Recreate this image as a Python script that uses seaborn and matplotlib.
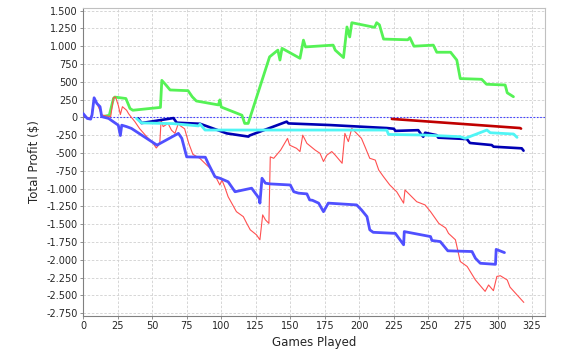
import pandas as pd
import matplotlib.pyplot as plt
import matplotlib.ticker as mticker
import seaborn as sns

# games played / total profit
green_games = [14, 19, 22, 23, 31, 34, 36, 56, 57, 60, 63, 76, 79, 82, 98, 99, 100, 115, 117, 119.5,
               135, 141, 142.5, 144, 157, 159.5, 161, 181, 182.5, 188.5, 191, 193, 194.5, 211, 212.5,
               214.5, 217.5, 235, 236.5, 239.5, 253.5, 256, 266, 270.5, 273, 288.5, 292, 305.5, 307, 311.5]
green_profit = [10, 30, 265, 285, 265, 125, 100, 140, 520, 455, 385, 375, 290, 230, 175, 245, 145, 30, -85, -85,
                850, 945, 805, 970, 830, 1085, 990, 1015, 945, 840, 1270, 1130, 1330, 1265, 1330,
                1300, 1100, 1090, 1120, 1000, 1015, 915, 915, 805, 545, 535, 465, 455, 345, 290]

red_games = [0, 2, 4, 6, 8, 10, 13.5, 17, 20, 22, 23.5, 25.5, 27, 28.5, 31.5, 33, 35, 37.5, 41, 46, 50.5, 53, 55.5,
             56.5, 58, 61.5, 64, 66.5, 69, 70.5, 73.5, 76.5, 79.5, 84.5, 89.5, 92, 93, 96.5, 99, 100.5, 102.5,
             105, 111, 116, 118.5, 121, 125.5, 128, 130, 132, 134.5, 135.5, 138, 143, 148, 149.5, 154.5, 157,
             159, 162, 168, 171.5, 174, 176.5, 180, 182.5, 187.5, 189.5, 192, 194.5, 198, 201.5, 204, 207.5,
             211.5, 214, 217.5, 222, 227, 232, 233, 241.5, 247.5, 251.5, 257.5, 262.5, 264.5, 269.5, 273, 278,
             284, 291, 293.5, 297, 299.5, 302, 307, 309, 319]
red_profit = [30, 10, -20, 20, 265, 200, 35, 20, 10, 280, 285, 170, 40, 150, 100, 50, 0, -60, -160, -270, -360, -430,
              -370, -40, -130, -85, -180, -225, -85, -120, -160, -365, -520, -575, -670, -715, -740, -855, -950,
              -880, -975, -1115, -1325, -1395, -1490, -1580, -1650, -1720, -1370, -1440, -1490, -555, -575, -460,
              -295, -390, -435, -480, -250, -365, -460, -505, -620, -530, -480, -530, -645, -225, -340, -155, -225,
              -295, -410, -575, -600, -740, -835, -950, -1045, -1205, -1020, -1185, -1230, -1325, -1490, -1555,
              -1630, -1720, -2025, -2095, -2285, -2445, -2355, -2435, -2235, -2225, -2285, -2385, -2600]

blue_games = [0, 3, 5.5, 6.5, 8, 10, 12.3, 13.5, 18.5, 25.5, 27, 28, 31.5, 35, 53.5, 69, 71.5, 75, 88.5, 90.5,
              95.5, 99, 105, 110, 122, 127.5, 128, 129.5, 132, 135.5, 150, 152.5, 156, 162, 164, 166, 170.5,
              174, 177.5, 198, 201.5, 205.5, 207.5, 210, 226, 232, 232.5, 251.5, 252.5, 258.5, 260, 264,
              281.5, 284, 287.5, 298.5, 299, 301, 303, 305]
blue_profit = [55, -15, -25, 35, 275, 195, 150, 10, -15, -110, -255, -110, -130, -155, -390, -225, -295, -555, -560, -645,
               -835, -855, -905, -1045, -995, -1140, -1205, -855, -925, -935, -950, -1045, -1065, -1075, -1160, -1165,
               -1205, -1325, -1205, -1230, -1300, -1395, -1580, -1615, -1630, -1790, -1605, -1675, -1730, -1745,
               -1780, -1875, -1885, -1980, -2050, -2065, -1855, -1870, -1885, -1900]

navy_games = [40, 42.3, 65.4, 67.8, 84.7, 104, 119.7, 120.5, 147.4, 148.6, 178.8, 219.8, 225, 226, 242.6, 245, 246.2,
              247.6, 255.9, 257.1, 277.8, 280, 295.8, 297.1, 317.5, 318.8]
navy_profit = [-15, -80, -10, -75, -90, -225, -270, -255, -60, -85, -108, -150, -160, -190, -180, -245, -272,
               -216, -250, -285, -305, -360, -389, -412, -435, -468]

cyan_games = [38.7, 42.3, 65.4, 83.5, 84.7, 88.3, 215, 219.8, 221.1, 246.4, 273, 276.6, 292.3, 294.7, 311.6, 314.1]
cyan_profit = [-15, -78, -88, -120, -95, -178, -178, -180, -240, -248, -272, -295, -178, -216, -234, -281]

dred_games = [223.5, 316.2, 317]
dred_profit = [-22, -150, -158]

y_ticks = list(range(-2750, 1501, 250))
x_ticks = list(range(0, 326, 25))


def thousands(v, pos):
    return f"{int(v):,}".replace(",", ".")


series = [
    ("green", green_games, green_profit, "#55f255", 2.0),
    ("red", red_games, red_profit, "#ff5050", 0.8),
    ("blue", blue_games, blue_profit, "#5050ff", 2.0),
    ("navy", navy_games, navy_profit, "#0000b4", 1.9),
    ("cyan", cyan_games, cyan_profit, "#50f5f5", 2.0),
    ("darkred", dred_games, dred_profit, "#c00000", 1.9),
]

sns.set_style("white")
plt.rcParams['font.family'] = ['DejaVu Sans']

fig = plt.figure(figsize=(5.65, 3.53), dpi=100)
ax = fig.add_axes([0.147, 0.105, 0.818, 0.872])

ax.axhline(0, color="#4040ff", lw=0.8, ls=(0, (1.5, 1.5)), zorder=1)

for name, games, profit, color, lw in series:
    df = pd.DataFrame({"Games Played": games, "Total Profit": profit})
    sns.lineplot(data=df, x="Games Played", y="Total Profit", color=color, lw=lw,
                 estimator=None, sort=False, ax=ax, zorder=3)

ax.set_xlim(0, 334.5)
ax.set_ylim(-2790, 1535)
ax.set_xticks(x_ticks)
ax.set_yticks(y_ticks)
ax.yaxis.set_major_formatter(mticker.FuncFormatter(thousands))
ax.grid(True, color="#d0d0d0", ls=(0, (3, 2)), lw=0.6)
ax.set_axisbelow(True)
ax.tick_params(axis="both", labelsize=7, length=2, width=0.6, color="#808080", pad=2, direction="out")
ax.tick_params(left=True, bottom=True)

for side in ["top", "right"]:
    ax.spines[side].set_color("#c0c0c0")
    ax.spines[side].set_linewidth(0.8)
for side in ["left", "bottom"]:
    ax.spines[side].set_color("#808080")
    ax.spines[side].set_linewidth(0.8)

ax.set_xlabel("Games Played", fontsize=8.5, labelpad=3)
ax.set_ylabel("Total Profit ($)", fontsize=8.5, labelpad=4)

plt.savefig("out.png", dpi=100)
